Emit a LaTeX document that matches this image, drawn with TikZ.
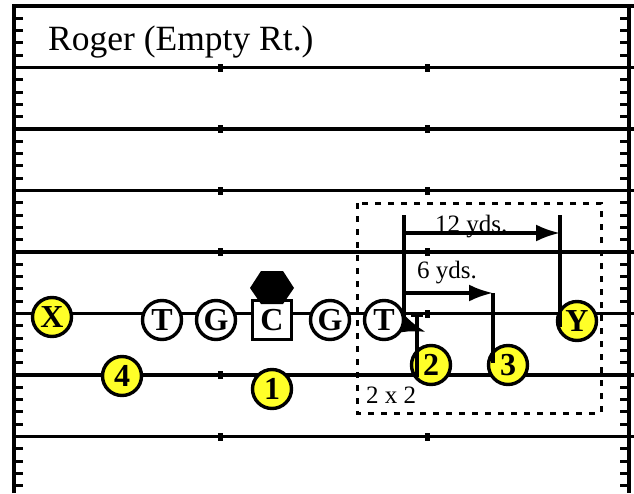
\documentclass[tikz,border=0pt]{standalone}
\usepackage{fontspec}
\setmainfont{Liberation Serif}
\usetikzlibrary{arrows.meta}
\definecolor{ballyellow}{RGB}{255,255,40}
\tikzset{
  field/.style={line width=3.6pt},
  hashmark/.style={line width=3pt},
  player/.style={circle, draw, line width=3.4pt, minimum size=39pt, inner sep=0pt,
    font=\fontsize{32}{32}\selectfont\bfseries},
  skill/.style={player, fill=ballyellow},
  lineman/.style={player, fill=white},
  route/.style={line width=3.3pt},
  tip/.style={-{Latex[length=24pt,width=17pt]}},
  yds/.style={anchor=base west, inner sep=0pt, font=\fontsize{25}{25}\selectfont},
}
\begin{document}
\begin{tikzpicture}[x=1pt, y=-1pt]
  \useasboundingbox (0,0) rectangle (634,493);
  %% Field: sidelines, yard lines, hash marks
  \draw[field] (14,493) -- (14,6) -- (634,6);
  \draw[field] (629,6) -- (629,493);
  \foreach \y in {67.5,129,190.5,252,313.5,375,436.5} {
    \draw[field] (14,\y) -- (634,\y);
    \fill (218,\y-4) rectangle (222.5,\y+4);
    \fill (425,\y-4) rectangle (429.5,\y+4);
  }
  \foreach \k [evaluate=\k as \y using 6+12.3*\k] in {1,...,39} {
    \draw[hashmark] (14,\y) -- (23,\y);
    \draw[hashmark] (620,\y) -- (629,\y);
  }
  \node[anchor=base west, inner sep=0pt, font=\fontsize{35.5}{35.5}\selectfont] (title) at (48,50) {Roger (Empty Rt.)};

  %% Trips box
  \draw[line width=3pt, dash pattern=on 6pt off 7pt] (357,203) rectangle (601,413);
  \node[yds] (twobytwo) at (366,403) {2 x 2};

  %% Players
  \node[skill] (X) at (52,317) {X};
  \node[lineman] (LT) at (162,320) {T};
  \node[lineman] (LG) at (216,320) {G};
  \node[lineman, rectangle] (C) at (272,320) {C};
  \fill (261,271) -- (283,271) -- (294,288) -- (283,304) -- (261,304) -- (250,288) -- cycle;
  \node[lineman] (RG) at (330,320) {G};
  \node[lineman] (RT) at (384,320) {T};
  \node[skill] (Y) at (577,321) {Y};
  \node[skill] (R2) at (431,365) {2};
  \node[skill] (R3) at (508,365) {3};
  \node[skill] (R4) at (122,376) {4};
  \node[skill] (R1) at (272,389) {1};

  %% Depth marks
  \coordinate (marktop) at (404,215);
  \coordinate (markbot) at (404,325);
  \coordinate (twelvestart) at (404,233);
  \coordinate (twelveend) at (560,233);
  \coordinate (sixstart) at (404,293);
  \coordinate (sixend) at (493,293);
  \draw[route] (marktop) -- (markbot);
  \draw[route, tip] (402,324) -- (426,332);
  \draw[route, tip] (twelvestart) -- (twelveend);
  \draw[route, tip] (sixstart) -- (sixend);
  \node[yds] (twelve) at (435,232) {12 yds.};
  \node[yds] (six) at (417,278) {6 yds.};

  %% Routes
  \draw[route] (560,215) -- ([shift={(-17,6)}]Y.center);
  \draw[route] (sixend) -- ([shift={(-15,-2)}]R3.center);
  \draw[route] (411,315.5) -- (423,315.5);
  \draw[route] (417,315.5) -- ([shift={(-14,12)}]R2.center);
\end{tikzpicture}
\end{document}
